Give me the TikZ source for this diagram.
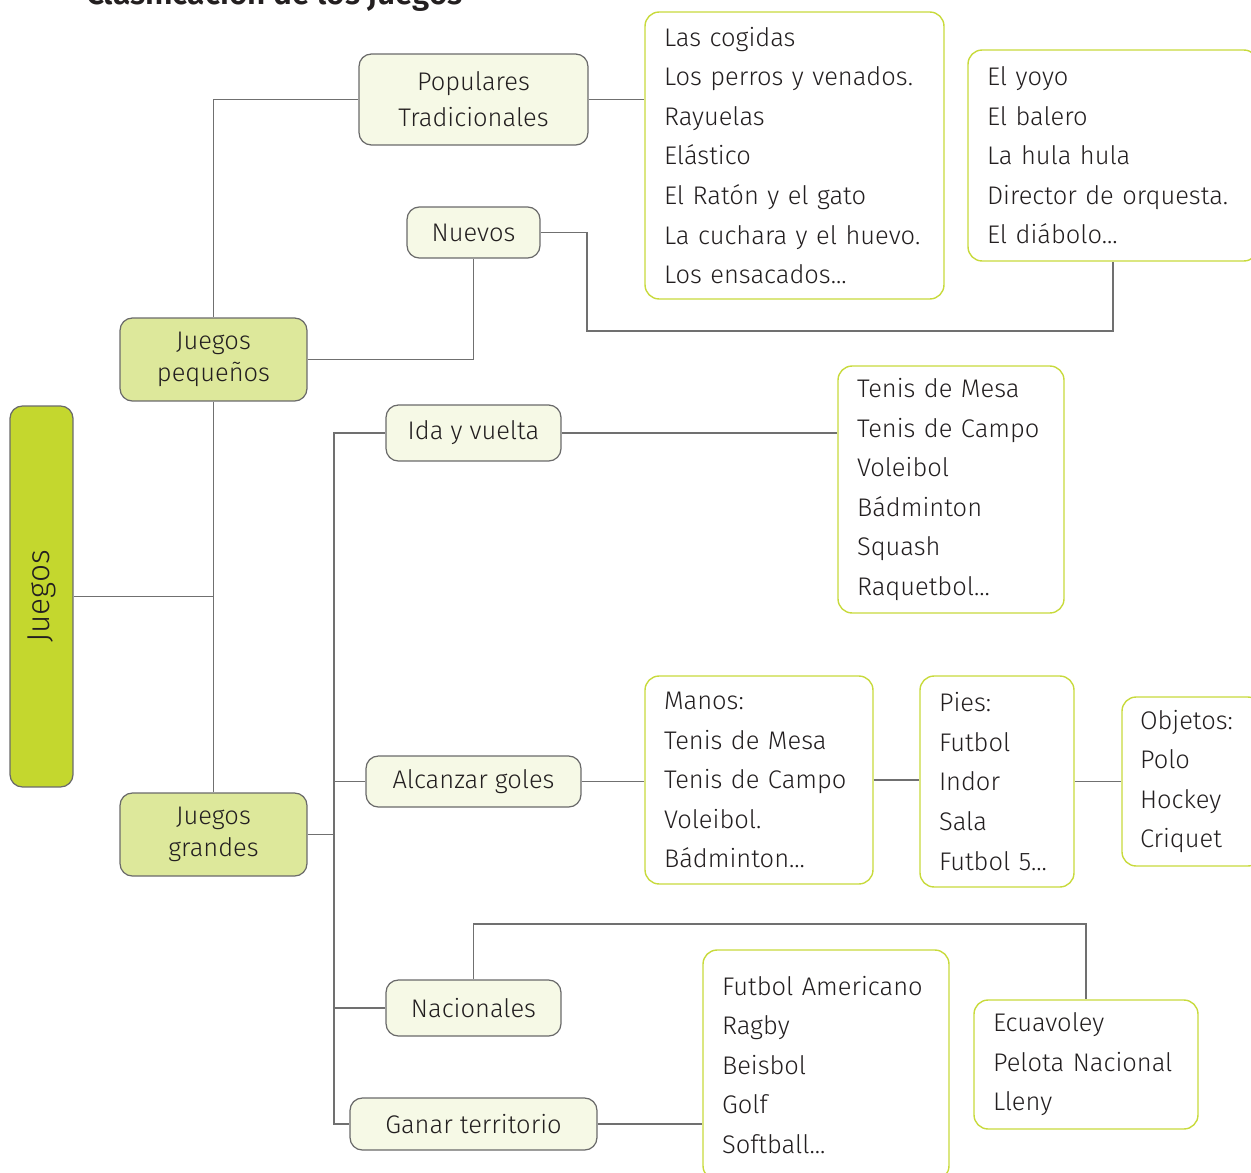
\documentclass[tikz,border=0pt]{standalone}
\usepackage{fontspec}
\setmainfont{Fira Sans}[UprightFont={* Light}, BoldFont={* SemiBold}]
\usetikzlibrary{positioning}

\definecolor{txt}{HTML}{231F20}
\definecolor{borde}{HTML}{6A6A6A}
\definecolor{linea}{HTML}{707070}
\definecolor{verdeA}{HTML}{C4D72E}
\definecolor{verdeB}{HTML}{DDE89B}
\definecolor{verdeC}{HTML}{F6F9E6}
\definecolor{verdeD}{HTML}{C8DA3C}

\tikzset{
  every node/.style={font=\fontsize{14.5}{22.5}\selectfont, text=txt},
  raiz/.style={draw=borde, fill=verdeA, line width=0.7pt, rounded corners=7pt,
    rotate=90, font=\fontsize{18}{22}\selectfont},
  grupo/.style={draw=borde, fill=verdeB, line width=0.7pt, rounded corners=7pt,
    align=center, font=\fontsize{14.5}{18.5}\selectfont},
  clase/.style={draw=borde, fill=verdeC, line width=0.7pt, rounded corners=7pt,
    align=center, inner sep=0pt},
  lista/.style={draw=verdeD, fill=white, line width=0.8pt, rounded corners=8pt,
    align=left, inner xsep=0.38cm, inner ysep=0pt},
  enlace/.style={draw=linea, line width=0.7pt}
}

\begin{document}
\begin{tikzpicture}[x=0.02cm, y=-0.02cm]
    \clip (0,0) rectangle (1251,1173);

    \node[anchor=base west, font=\bfseries\fontsize{18}{20}\selectfont] (titulo) at (80,5) {Clasificación de los juegos};

    \node[raiz, minimum width=7.62cm, minimum height=1.26cm] (juegos) at (41.5,596.5) {Juegos};
    \node[grupo, minimum width=3.74cm, minimum height=1.66cm] (peq) at (213.5,359.5) {Juegos\\ pequeños};
    \node[grupo, minimum width=3.74cm, minimum height=1.66cm] (gra) at (213.5,834.5) {Juegos\\ grandes};

    % juegos pequenos
    \node[clase, minimum width=4.58cm, minimum height=1.82cm] (pop) at (473.5,99.5) {Populares\\[-2pt]Tradicionales};
    \node[clase, minimum width=2.66cm, minimum height=1.02cm] (nue) at (473.5,232.5) {Nuevos};
    \node[lista, text width=5.22cm, minimum height=5.74cm] (trad) at (794.5,155.5)
      {Las cogidas\\ Los perros y venados.\\ Rayuelas\\ Elástico\\ El Ratón y el gato\\ \mbox{La cuchara y el huevo.}\\ Los ensacados...};
    \node[lista, text width=5.04cm, minimum height=4.22cm] (nuev) at (1113,155.5)
      {El yoyo\\ El balero\\ La hula hula\\ Director de orquesta.\\ El diábolo...};

    % juegos grandes
    \node[clase, minimum width=3.5cm, minimum height=1.12cm] (ida) at (473.5,433) {Ida y vuelta};
    \node[clase, minimum width=4.3cm, minimum height=1.02cm] (alc) at (473.5,781.5) {Alcanzar goles};
    \node[clase, minimum width=3.5cm, minimum height=1.12cm] (nac) at (473.5,1008) {Nacionales};
    \node[clase, minimum width=4.94cm, minimum height=1.04cm] (gan) at (473.5,1124) {Ganar territorio};

    \node[lista, text width=3.76cm, minimum height=4.94cm] (lida) at (951,489.5)
      {Tenis de Mesa\\ Tenis de Campo\\ Voleibol\\ Bádminton\\ Squash\\ Raquetbol...};
    \node[lista, text width=3.8cm, minimum height=4.16cm] (manos) at (759,780)
      {Manos:\\ Tenis de Mesa\\ Tenis de Campo\\ Voleibol.\\ Bádminton...};
    \node[lista, text width=2.32cm, minimum height=4.22cm] (pies) at (997,781.5)
      {Pies:\\ Futbol\\ Indor\\ Sala\\ Futbol 5...};
    \node[lista, inner xsep=0.36cm, text width=2.08cm, minimum height=3.38cm] (obj) at (1192,781.5)
      {Objetos:\\ Polo\\ Hockey\\ Criquet};
    \node[lista, text width=4.16cm, minimum height=4.6cm] (lter) at (826,1065)
      {Futbol Americano\\ Ragby\\ Beisbol\\ Golf\\ Softball...};
    \node[lista, text width=3.72cm, minimum height=2.58cm] (lnac) at (1086,1064.5)
      {Ecuavoley\\ Pelota Nacional\\ Lleny};

    \coordinate (c1) at (587,331);
    \coordinate (c2) at (473.5,924);
    \coordinate (g0) at (334,834.5);

    \path[enlace]
    (juegos.south) -- (juegos.south -| peq)
    (pop.west) -| (peq.north)
    (peq.south) -- (gra.north)
    (peq.east) -| (nue.south)
    (pop.east) -- (pop.east -| trad.west)
    (nue.east) -| (c1) -| (nuev.south)
    (gra.east) -- (g0)
    (ida.west) -- (ida.west -| g0) -- (gan.west -| g0) -- (gan.west)
    (alc.west) -- (alc.west -| g0)
    (nac.west) -- (nac.west -| g0)
    (ida.east) -- (ida.east -| lida.west)
    (alc.east) -- (alc.east -| manos.west)
    (manos.east) -- (manos.east -| pies.west)
    (pies.east) -- (pies.east -| obj.west)
    (nac.north) -- (c2) -| (lnac.north)
    (gan.east) -- (gan.east -| lter.west)
    ;
\end{tikzpicture}
\end{document}
